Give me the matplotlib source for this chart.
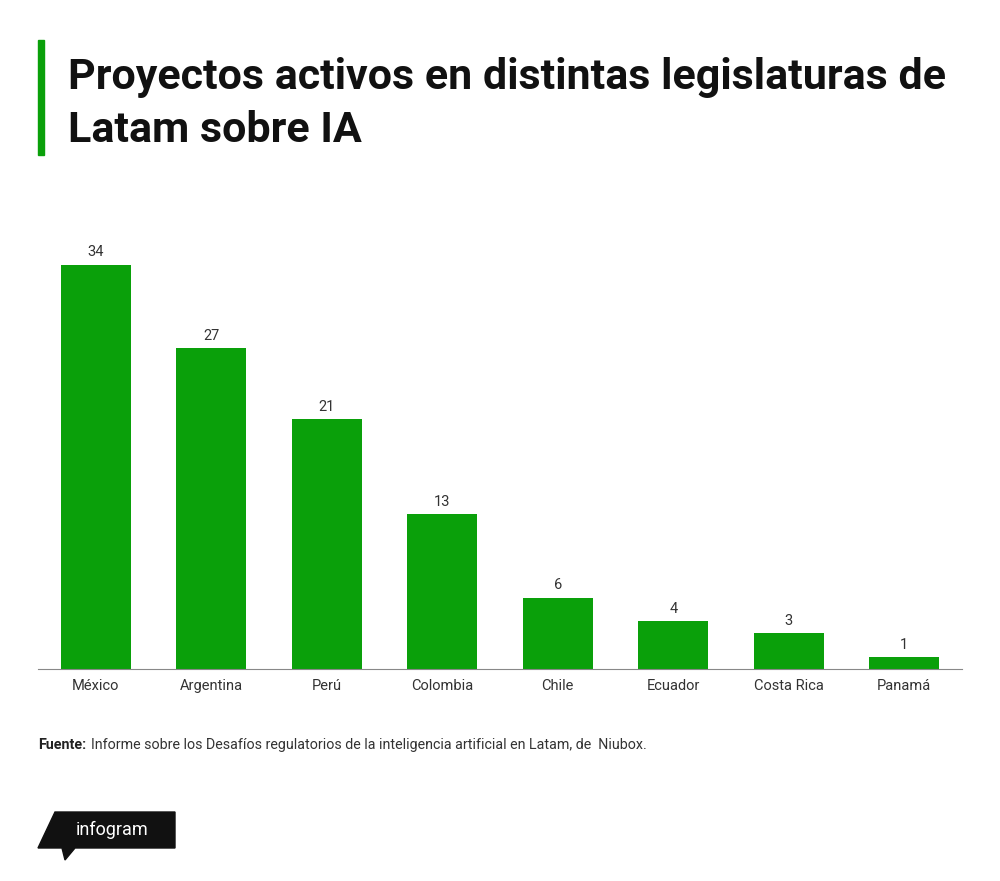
import matplotlib
matplotlib.use("Agg")
import matplotlib.pyplot as plt
from matplotlib.patches import Polygon, Rectangle

plt.rcParams['font.family'] = ['Roboto', 'DejaVu Sans']

categories = ["México", "Argentina", "Perú", "Colombia", "Chile", "Ecuador", "Costa Rica", "Panamá"]
values = [34, 27, 21, 13, 6, 4, 3, 1]

W, H = 1000, 881
fig = plt.figure(figsize=(10, 8.81), dpi=100)
fig.patch.set_facecolor("white")
green = "#0aa00a"

ax = fig.add_axes([38/W, 1-669/H, 924/W, (669-241)/H])
ax.bar(range(len(values)), values, width=0.61, color=green)
ax.set_xlim(-0.5, len(values)-0.5)
ax.set_ylim(0, 36)
for i, v in enumerate(values):
    ax.text(i, v+0.45, str(v), ha="center", va="bottom", fontsize=10.5, color="#333333")
ax.set_xticks(range(len(values)))
ax.set_xticklabels(categories, fontsize=10.5, color="#333333")
ax.tick_params(axis="x", length=0, pad=7)
ax.set_yticks([])
for s in ["top", "right", "left"]:
    ax.spines[s].set_visible(False)
ax.spines["bottom"].set_color("#888888")

# title
fig.add_artist(Rectangle((38/W, 1-155/H), 6/W, 115/H, color=green, transform=fig.transFigure))
fig.text(68/W, 1-78/H, "Proyectos activos en distintas legislaturas de", fontsize=31, fontweight="bold", va="center", color="#111111")
fig.text(68/W, 1-130/H, "Latam sobre IA", fontsize=31, fontweight="bold", va="center", color="#111111")

# source
fig.text(38/W, 1-745/H, "Fuente:", fontsize=10.3, fontweight="bold", va="center", color="#222222")
fig.text(91/W, 1-745/H, "Informe sobre los Desafíos regulatorios de la inteligencia artificial en Latam, de  Niubox.",
         fontsize=10.3, va="center", color="#333333")

# logo
pts = [(55, 812), (175, 812), (175, 848), (75, 848), (65, 860), (62, 848), (38, 848)]
fig.add_artist(Polygon([(x/W, 1-y/H) for x, y in pts], closed=True, color="#111111", transform=fig.transFigure))
fig.text(112/W, 1-830/H, "infogram", fontsize=13, color="white", ha="center", va="center")

fig.savefig("out.png", dpi=100)
